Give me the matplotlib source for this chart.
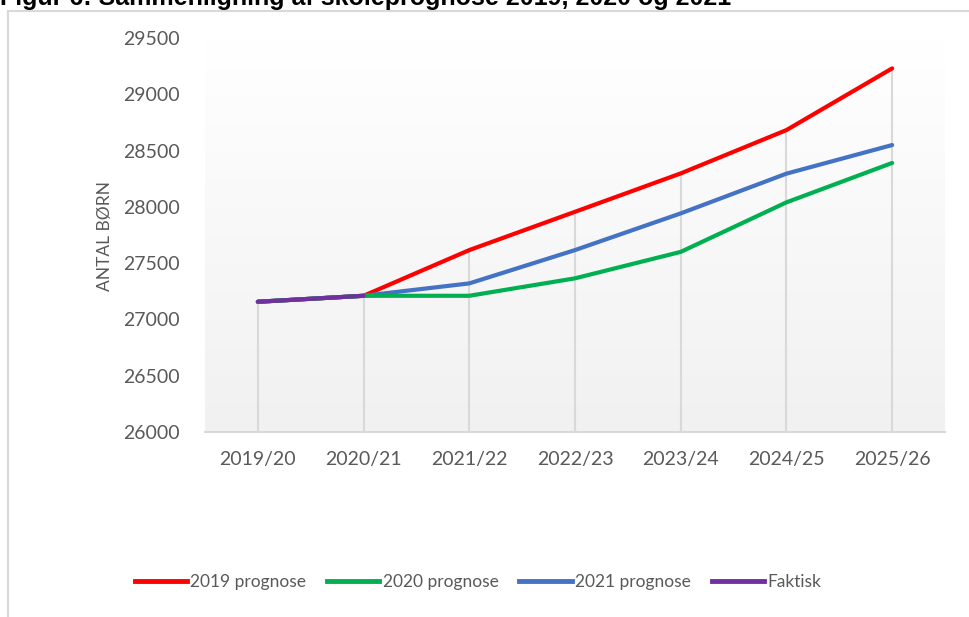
import numpy as np
import matplotlib
matplotlib.use("Agg")
import matplotlib.pyplot as plt
from matplotlib.lines import Line2D

# data
years = ["2019/20", "2020/21", "2021/22", "2022/23", "2023/24", "2024/25", "2025/26"]
prog_2019 = [27157, 27210, 27616, 27956, 28297, 28682, 29230]
prog_2020 = [27157, 27210, 27210, 27365, 27600, 28040, 28390]
prog_2021 = [27157, 27210, 27320, 27616, 27942, 28295, 28549]
faktisk = [27157, 27210]

title = "Figur 6: Sammenligning af skoleprognose 2019, 2020 og 2021"
series_names = ["2019 prognose", "2020 prognose", "2021 prognose", "Faktisk"]
colors = ["#ff0000", "#00b050", "#4472c4", "#7030a0"]

plt.rcParams['font.family'] = ['Lato', 'DejaVu Sans']

fig = plt.figure(figsize=(9.7, 6.17), dpi=100)
W, H = 970, 617

# outer chart frame (only left and top edges are visible)
fig.add_artist(Line2D([8 / W, 8 / W], [0, 1 - 11 / H], transform=fig.transFigure,
                      color="#d9d9d9", lw=1.5))
fig.add_artist(Line2D([8 / W, 1], [1 - 11 / H, 1 - 11 / H], transform=fig.transFigure,
                      color="#d9d9d9", lw=1.5))

# title, cut off at the top as in the source image
fig.text(0.0, 1 - 5 / H, title, fontsize=18, fontweight="bold",
         family=["Liberation Sans", "DejaVu Sans"], va="baseline", ha="left")

left, right = 205 / W, 945 / W
bottom, top = (H - 432) / H, (H - 38) / H
ax = fig.add_axes([left, bottom, right - left, top - bottom])

x = np.arange(len(years))

# soft gradient fill of the plot area, white at the top
grad = np.linspace(0, 1, 256).reshape(-1, 1)
cmap = matplotlib.colors.LinearSegmentedColormap.from_list("g", ["#ffffff", "#f1f1f1"])
ax.imshow(grad, extent=[-0.5, len(years) - 0.5, 26000, 29500], aspect="auto",
          cmap=cmap, origin="upper", zorder=0)
ax.set_xlim(-0.5, len(years) - 0.5)
ax.set_ylim(26000, 29500)

# drop lines from the highest value down to the axis
tops = np.max([prog_2019, prog_2020, prog_2021], axis=0)
ax.vlines(x, 26000, tops, color="#d9d9d9", lw=1.5, zorder=1)

ax.plot(x, prog_2019, color=colors[0], lw=3, solid_capstyle="round", zorder=3)
ax.plot(x, prog_2021, color=colors[2], lw=3, solid_capstyle="round", zorder=3)
ax.plot(x, prog_2020, color=colors[1], lw=3, solid_capstyle="round", zorder=3)
ax.plot(x[:len(faktisk)], faktisk, color=colors[3], lw=3, solid_capstyle="round", zorder=4)

for s in ["top", "right", "left"]:
    ax.spines[s].set_visible(False)
ax.spines["bottom"].set_color("#d9d9d9")
ax.spines["bottom"].set_linewidth(1.5)

ax.set_xticks(x)
ax.set_xticklabels(years)
ax.set_yticks(np.arange(26000, 29501, 500))
ax.tick_params(length=0, labelsize=14, labelcolor="#595959")
ax.tick_params(axis="x", pad=14)
ax.tick_params(axis="y", pad=18)

fig.text(105 / W, 1 - 236 / H, "ANTAL BØRN", rotation=90, fontsize=12.5,
         color="#595959", ha="center", va="center")

handles = [Line2D([], [], color=c, lw=3.5) for c in colors]
fig.legend(handles, series_names, loc="center", bbox_to_anchor=(478 / W, 1 - 582 / H),
           ncol=4, frameon=False, fontsize=12.5, handlelength=3.0, handletextpad=0.2,
           columnspacing=1.2, labelcolor="#595959")

fig.savefig("out.png", dpi=100)
